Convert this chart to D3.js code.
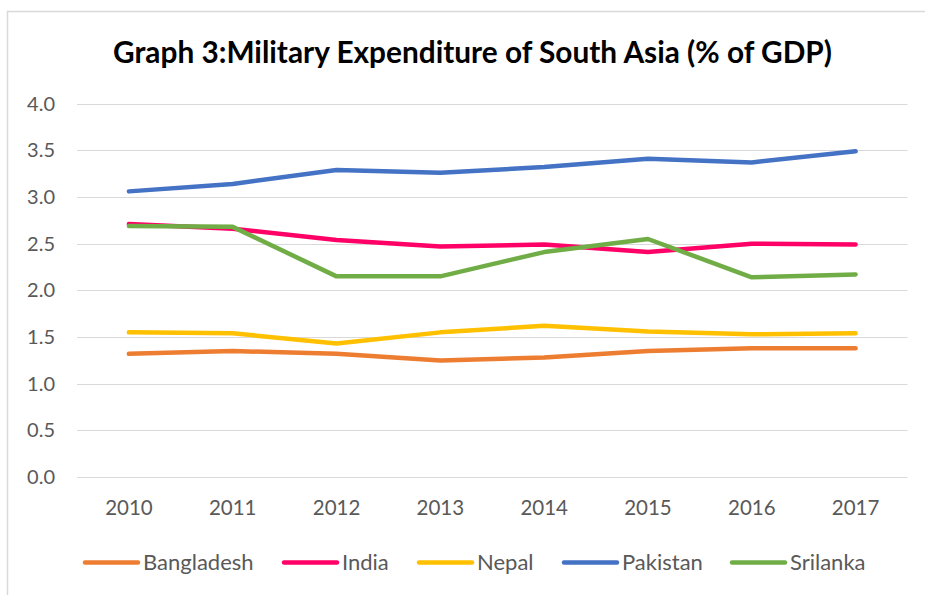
<!DOCTYPE html>
<html>
<head>
<meta charset="utf-8">
<script src="https://cdn.jsdelivr.net/npm/d3@7"></script>
<style>
  html, body { margin: 0; padding: 0; background: #fff; }
  svg { display: block; }
</style>
</head>
<body>
<svg id="chart" width="925" height="595"></svg>
<script>
const years = ["2010","2011","2012","2013","2014","2015","2016","2017"];
const yTicks = [0, 0.5, 1.0, 1.5, 2.0, 2.5, 3.0, 3.5, 4.0];
const seriesNames = ["Bangladesh","India","Nepal","Pakistan","Srilanka"];
const seriesColors = ["#ED7D31","#FF0066","#FFC000","#4472C4","#70AD47"];
const bangladesh = [1.32, 1.35, 1.32, 1.25, 1.28, 1.35, 1.38, 1.38];
const india      = [2.71, 2.66, 2.54, 2.47, 2.49, 2.41, 2.50, 2.49];
const nepal      = [1.55, 1.54, 1.43, 1.55, 1.62, 1.56, 1.53, 1.54];
const pakistan   = [3.06, 3.14, 3.29, 3.26, 3.32, 3.41, 3.37, 3.49];
const srilanka   = [2.69, 2.68, 2.15, 2.15, 2.41, 2.55, 2.14, 2.17];
const title = "Graph 3:Military Expenditure of South Asia (% of GDP)";

const seriesValues = [bangladesh, india, nepal, pakistan, srilanka];

const svg = d3.select("#chart");
const plot = { left: 77, right: 907.5, top: 103.6, bottom: 477.1 };
const FONT = "Lato, 'Open Sans', sans-serif";

// outer border (chart area frame, cropped at right/bottom)
svg.append("rect").attr("x", 7.5).attr("y", 11.5).attr("width", 940).attr("height", 600)
  .attr("fill", "#fff").attr("stroke", "#d9d9d9").attr("stroke-width", 1.5);

const x = d3.scaleBand().domain(years).range([plot.left, plot.right]).padding(0);
const y = d3.scaleLinear().domain([0, 4]).range([plot.bottom, plot.top]);

// gridlines
svg.append("g").selectAll("line").data(yTicks).join("line")
  .attr("x1", plot.left).attr("x2", plot.right)
  .attr("y1", d => Math.round(y(d)) + 0.5).attr("y2", d => Math.round(y(d)) + 0.5)
  .attr("stroke", "#d9d9d9").attr("stroke-width", 1);

// y axis labels
const yAxis = d3.axisLeft(y).tickValues(yTicks).tickFormat(d3.format(".1f")).tickSize(0).tickPadding(0);
const yg = svg.append("g").attr("transform", `translate(${plot.left - 22},0)`).call(yAxis);
yg.select(".domain").remove();
yg.selectAll("text").attr("fill", "#595959").style("font-family", FONT).style("font-size", "20px");

// x axis labels
const xAxis = d3.axisBottom(x).tickSize(0).tickPadding(0);
const xg = svg.append("g").attr("transform", `translate(0,${plot.bottom + 23})`).call(xAxis);
xg.select(".domain").remove();
xg.selectAll("text").attr("fill", "#595959").style("font-family", FONT).style("font-size", "20.5px");

// lines
const line = d3.line().x((d, i) => x(years[i]) + x.bandwidth() / 2).y(d => y(d));
svg.append("g").selectAll("path").data(seriesValues).join("path")
  .attr("d", d => line(d))
  .attr("fill", "none")
  .attr("stroke", (d, i) => seriesColors[i])
  .attr("stroke-width", 4.5)
  .attr("stroke-linecap", "round")
  .attr("stroke-linejoin", "round");

// title
const t = svg.append("text").attr("x", 472.5).attr("y", 63).attr("text-anchor", "middle")
  .style("font-family", FONT).style("font-weight", "bold").style("font-size", "26px")
  .attr("fill", "#000").text(title);
const tw = t.node().getComputedTextLength();
t.style("font-size", (26 * 719 / tw).toFixed(2) + "px");

// legend
const legendX = [85, 284, 419, 564, 732];
const lg = svg.append("g").selectAll("g").data(seriesNames).join("g")
  .attr("transform", (d, i) => `translate(${legendX[i]},562.5)`);
lg.append("line").attr("x1", 0).attr("x2", 53).attr("y1", 0).attr("y2", 0)
  .attr("stroke", (d, i) => seriesColors[i]).attr("stroke-width", 4.5).attr("stroke-linecap", "round");
lg.append("text").attr("x", 58).attr("y", 0).attr("dy", "0.35em")
  .attr("fill", "#595959").style("font-family", FONT).style("font-size", "22px").text(d => d);
</script>
</body>
</html>
